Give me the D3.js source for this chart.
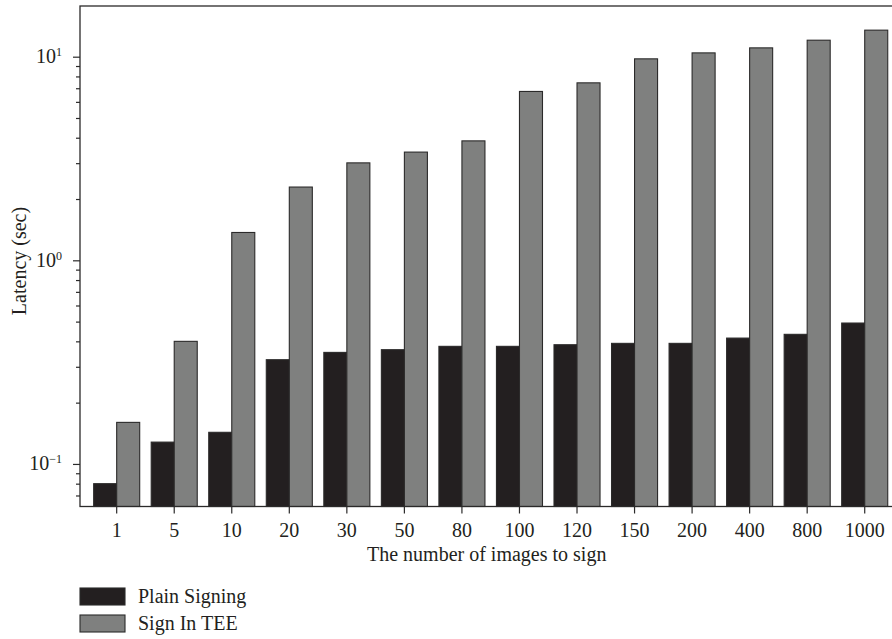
<!DOCTYPE html>
<html>
<head>
<meta charset="utf-8">
<script src="https://cdn.jsdelivr.net/npm/d3@7"></script>
<style>
  html, body { margin: 0; padding: 0; background: #fff; }
  svg { display: block; }
  text { font-family: "Liberation Serif", "Times New Roman", serif; fill: #231f20; }
</style>
</head>
<body>
<svg id="chart" width="892" height="639"></svg>
<script>
// Number of images signed in one batch
const categories = ["1", "5", "10", "20", "30", "50", "80", "100", "120", "150", "200", "400", "800", "1000"];
// Latency in seconds for each batch size
const plainSigning = [0.080, 0.128, 0.143, 0.325, 0.353, 0.364, 0.378, 0.378, 0.385, 0.391, 0.391, 0.415, 0.433, 0.492];
const signInTEE    = [0.160, 0.40, 1.37, 2.29, 3.01, 3.40, 3.86, 6.75, 7.44, 9.76, 10.44, 11.05, 12.05, 13.5];
const seriesNames = ["Plain Signing", "Sign In TEE"];
const seriesColors = ["#231f20", "#7f807f"];
const majorTicks = [0.1, 1, 10];
const majorTickLabels = [["10", "\u22121"], ["10", "0"], ["10", "1"]];

const svg = d3.select("#chart");
const plotLeft = 80, plotRight = 901.4, plotTop = 6, plotBottom = 506.5;
const ink = "#2b2a2a";

const x = d3.scaleBand().domain(categories).range([plotLeft, plotRight])
  .paddingInner(0.2).paddingOuter(0.2375);
const xs = d3.scaleBand().domain(seriesNames).range([0, x.bandwidth()]);
const y = d3.scaleLog().domain([0.0618, 17.74]).range([plotBottom, plotTop]);

const rows = categories.map((c, i) => ({ cat: c, values: [plainSigning[i], signInTEE[i]] }));

// Bars
const groups = svg.append("g").selectAll("g").data(rows).join("g")
  .attr("transform", d => `translate(${x(d.cat)},0)`);
groups.selectAll("rect")
  .data(d => d.values.map((v, k) => ({ name: seriesNames[k], v, k })))
  .join("rect")
  .attr("x", d => xs(d.name))
  .attr("width", xs.bandwidth())
  .attr("y", d => y(d.v))
  .attr("height", d => plotBottom - y(d.v))
  .attr("fill", d => seriesColors[d.k])
  .attr("stroke", ink)
  .attr("stroke-width", 1.1);

// Frame
svg.append("rect")
  .attr("x", plotLeft).attr("y", plotTop)
  .attr("width", plotRight - plotLeft).attr("height", plotBottom - plotTop)
  .attr("fill", "none").attr("stroke", ink).attr("stroke-width", 1.3);

// Y axis: minor ticks
const minor = y.ticks().filter(t => !majorTicks.some(m => Math.abs(m - t) < 1e-9));
const yMinor = svg.append("g").attr("transform", `translate(${plotLeft},0)`)
  .call(d3.axisLeft(y).tickValues(minor).tickSize(4).tickFormat(""));
yMinor.select(".domain").remove();
yMinor.selectAll("line").attr("stroke", ink).attr("stroke-width", 1.2);

// Y axis: major ticks with power-of-ten labels
const yMajor = svg.append("g").attr("transform", `translate(${plotLeft},0)`)
  .call(d3.axisLeft(y).tickValues(majorTicks).tickSize(7).tickFormat(""));
yMajor.select(".domain").remove();
yMajor.selectAll("line").attr("stroke", ink).attr("stroke-width", 1.2);
yMajor.selectAll(".tick").each(function(d, i) {
  const t = d3.select(this).append("text")
    .attr("x", -18).attr("y", 5.8)
    .attr("text-anchor", "end")
    .attr("font-size", 20);
  t.append("tspan").text(majorTickLabels[i][0]);
  t.append("tspan").attr("font-size", 12).attr("dy", -7).text(majorTickLabels[i][1]);
});

// X axis
const xAxis = svg.append("g").attr("transform", `translate(0,${plotBottom})`)
  .call(d3.axisBottom(x).tickSize(7).tickPadding(12));
xAxis.select(".domain").remove();
xAxis.selectAll("line").attr("stroke", ink).attr("stroke-width", 1.2);
xAxis.selectAll("text")
  .attr("font-size", 20)
  .attr("font-family", "Liberation Serif, serif")
  .attr("fill", "#231f20")
  .attr("dy", null)
  .attr("y", 30);

// Axis titles
svg.append("text")
  .attr("x", (plotLeft + plotRight) / 2 - 4).attr("y", 561)
  .attr("text-anchor", "middle").attr("font-size", 20)
  .text("The number of images to sign");
svg.append("text")
  .attr("transform", "translate(26,261) rotate(-90)")
  .attr("text-anchor", "middle").attr("font-size", 20)
  .text("Latency (sec)");

// Legend
const legend = svg.append("g").attr("transform", "translate(80,588)");
seriesNames.forEach((name, k) => {
  const g = legend.append("g").attr("transform", `translate(0,${k * 27})`);
  g.append("rect").attr("width", 45).attr("height", 17)
    .attr("fill", seriesColors[k]).attr("stroke", ink).attr("stroke-width", 1.1);
  g.append("text").attr("x", 58).attr("y", 14.5).attr("font-size", 20).text(name);
});
</script>
</body>
</html>
